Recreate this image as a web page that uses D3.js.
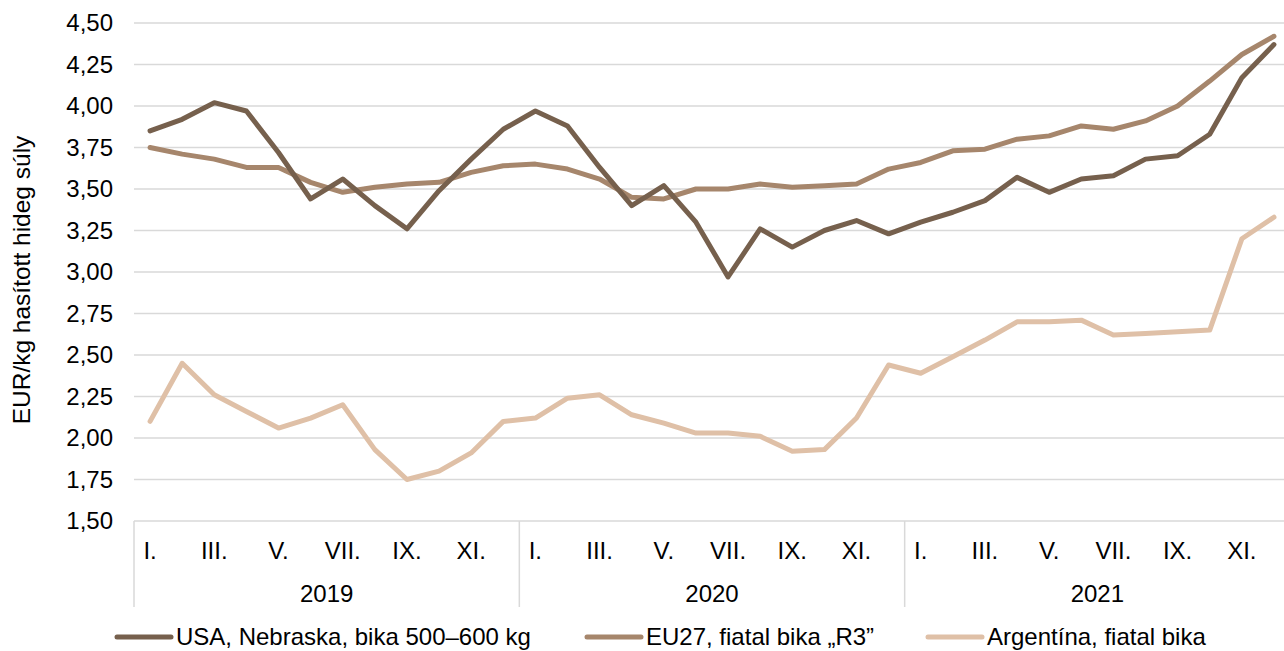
<!DOCTYPE html>
<html>
<head>
  <meta charset="utf-8">
  <title>Marhahús árak</title>
  <script src="https://d3js.org/d3.v7.min.js"></script>
  <style>
    body { margin: 0; background: #fff; }
    svg { display: block; font-family: "Liberation Sans", Arial, sans-serif; }
  </style>
</head>
<body>
  <svg width="1284" height="651"></svg>

  <script>
    const years = ["2019", "2020", "2021"];
    const months = ["I.", "II.", "III.", "IV.", "V.", "VI.", "VII.", "VIII.", "IX.", "X.", "XI.", "XII."];
    const yTicks = [1.5, 1.75, 2, 2.25, 2.5, 2.75, 3, 3.25, 3.5, 3.75, 4, 4.25, 4.5];

    const usa = [3.85, 3.92, 4.02, 3.97, 3.72, 3.44, 3.56, 3.40, 3.26, 3.49, 3.68, 3.86,
                 3.97, 3.88, 3.63, 3.40, 3.52, 3.30, 2.97, 3.26, 3.15, 3.25, 3.31, 3.23,
                 3.30, 3.36, 3.43, 3.57, 3.48, 3.56, 3.58, 3.68, 3.70, 3.83, 4.17, 4.37];
    const eu27 = [3.75, 3.71, 3.68, 3.63, 3.63, 3.54, 3.48, 3.51, 3.53, 3.54, 3.60, 3.64,
                  3.65, 3.62, 3.56, 3.45, 3.44, 3.50, 3.50, 3.53, 3.51, 3.52, 3.53, 3.62,
                  3.66, 3.73, 3.74, 3.80, 3.82, 3.88, 3.86, 3.91, 4.00, 4.15, 4.31, 4.42];
    const argentina = [2.10, 2.45, 2.26, 2.16, 2.06, 2.12, 2.20, 1.93, 1.75, 1.80, 1.91, 2.10,
                       2.12, 2.24, 2.26, 2.14, 2.09, 2.03, 2.03, 2.01, 1.92, 1.93, 2.12, 2.44,
                       2.39, 2.49, 2.59, 2.70, 2.70, 2.71, 2.62, 2.63, 2.64, 2.65, 3.20, 3.33];

    const seriesNames = ["USA, Nebraska, bika 500\u2013600 kg", "EU27, fiatal bika \u201eR3\u201d", "Argent\u00edna, fiatal bika"];
    const colors = ["#76604d", "#a6866c", "#dfc0a7"];
    const series = [usa, eu27, argentina];

    const svg = d3.select("svg");
    const plotLeft = 134, plotRight = 1290, plotTop = 23, plotBottom = 521;
    const fontSize = 24;

    const periods = [];
    years.forEach(yr => months.forEach(m => periods.push(yr + "-" + m)));

    const x = d3.scaleBand().domain(periods).range([plotLeft, plotRight]);
    const y = d3.scaleLinear().domain([1.5, 4.5]).range([plotBottom, plotTop]);
    const fmt = v => d3.format(".2f")(v).replace(".", ",");

    // gridlines
    svg.append("g")
      .selectAll("line")
      .data(yTicks.slice(1))
      .join("line")
      .attr("x1", plotLeft).attr("x2", plotRight)
      .attr("y1", d => y(d)).attr("y2", d => y(d))
      .attr("stroke", "#d9d9d9").attr("stroke-width", 1.5);

    // y axis labels
    svg.append("g")
      .selectAll("text")
      .data(yTicks)
      .join("text")
      .attr("x", 113)
      .attr("y", d => y(d))
      .attr("dy", "0.35em")
      .attr("text-anchor", "end")
      .attr("font-size", fontSize)
      .attr("fill", "#000")
      .text(fmt);

    svg.append("text")
      .attr("transform", `translate(30,280) rotate(-90)`)
      .attr("text-anchor", "middle")
      .attr("font-size", 24.5)
      .text("EUR/kg hasított hideg súly");

    // x axis line and year separators
    svg.append("line")
      .attr("x1", plotLeft).attr("x2", plotRight)
      .attr("y1", plotBottom).attr("y2", plotBottom)
      .attr("stroke", "#d9d9d9").attr("stroke-width", 1.5);

    const sepX = years.map(yr => x(yr + "-I.")).concat([plotRight]);
    svg.append("g")
      .selectAll("line")
      .data(sepX)
      .join("line")
      .attr("x1", d => d).attr("x2", d => d)
      .attr("y1", plotBottom).attr("y2", 607)
      .attr("stroke", "#d9d9d9").attr("stroke-width", 1.5);

    // month labels (every other)
    svg.append("g")
      .selectAll("text")
      .data(periods.filter((p, i) => i % 2 === 0))
      .join("text")
      .attr("x", d => x(d) + x.bandwidth() / 2)
      .attr("y", 559)
      .attr("text-anchor", "middle")
      .attr("font-size", fontSize)
      .text(d => d.split("-")[1]);

    // year labels
    svg.append("g")
      .selectAll("text")
      .data(years)
      .join("text")
      .attr("x", (d, i) => (sepX[i] + sepX[i + 1]) / 2)
      .attr("y", 602)
      .attr("text-anchor", "middle")
      .attr("font-size", fontSize)
      .text(d => d);

    // lines
    const line = d3.line()
      .x((d, i) => x(periods[i]) + x.bandwidth() / 2)
      .y(d => y(d));

    [2, 1, 0].forEach(k => {
      svg.append("path")
        .datum(series[k])
        .attr("d", line)
        .attr("fill", "none")
        .attr("stroke", colors[k])
        .attr("stroke-width", 5)
        .attr("stroke-linejoin", "round")
        .attr("stroke-linecap", "round");
    });

    // legend
    const legendX = [117, 587, 928];
    const lg = svg.append("g")
      .selectAll("g")
      .data(seriesNames)
      .join("g")
      .attr("transform", (d, i) => `translate(${legendX[i]},637)`);
    lg.append("line")
      .attr("x1", 0).attr("x2", 54)
      .attr("stroke", (d, i) => colors[i])
      .attr("stroke-width", 5)
      .attr("stroke-linecap", "round");
    lg.append("text")
      .attr("x", 59)
      .attr("dy", "0.35em")
      .attr("font-size", fontSize)
      .text(d => d);
  </script>
</body>
</html>
